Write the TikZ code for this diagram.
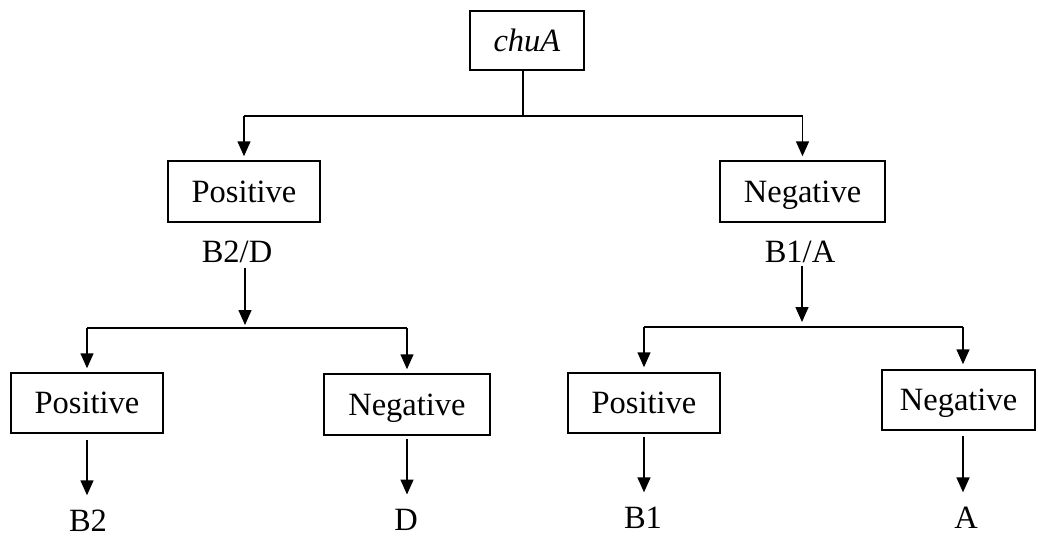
\documentclass[tikz,border=0pt]{standalone}
\usepackage{fontspec}
\setmainfont{Liberation Serif}
\usetikzlibrary{arrows.meta}
\begin{document}
\begin{tikzpicture}[x=1pt,y=-1pt,
  every node/.style={font=\fontsize{32.5}{38}\selectfont},
  box/.style={draw, line width=1.5pt, inner sep=0pt, text height=21.5pt, text depth=0pt},
  lab/.style={anchor=base, inner sep=0pt},
  conn/.style={line width=1.5pt},
  arr/.style={line width=1.5pt, -{Triangle[width=13pt,length=15pt]}}]
\useasboundingbox (0,0) rectangle (1038,536);
% boxes
\node[box, minimum width=114pt, minimum height=59pt] (chua) at (527,40.5) {\textit{chuA}};
\node[box, minimum width=152pt, minimum height=61pt] (pos1) at (244,191.5) {Positive};
\node[box, minimum width=165pt, minimum height=61pt] (neg1) at (802.5,191.5) {Negative};
\node[box, minimum width=152pt, minimum height=60pt] (pos2) at (87,403) {Positive};
\node[box, minimum width=166pt, minimum height=61pt] (neg2) at (407,404.5) {Negative};
\node[box, minimum width=152pt, minimum height=60pt] (pos3) at (644,403) {Positive};
\node[box, minimum width=153pt, minimum height=60pt] (neg3) at (958.5,400) {Negative};
% labels
\node[lab] (bd) at (237,262) {B2/D};
\node[lab] (ba) at (800,262) {B1/A};
\node[lab] (b2) at (88,531) {B2};
\node[lab] (d) at (406,530) {D};
\node[lab] (b1) at (643,528) {B1};
\node[lab] (a) at (966,528) {A};
% junctions
\coordinate (j0) at (523,116);
\coordinate (j1) at (245,328);
\coordinate (j2) at (802,327);
\coordinate (r3) at (963,327);
% top level
\draw[conn] (chua.south -| j0) -- (j0);
\draw[conn] (pos1 |- j0) -- (neg1 |- j0);
\draw[arr, shorten >=4pt] (pos1 |- j0) -- (pos1.north);
\draw[arr, shorten >=4pt] (neg1 |- j0) -- (neg1.north);
% left branch
\draw[arr, shorten <=5pt, shorten >=3pt] (bd.south -| j1) -- (j1);
\draw[conn] (pos2 |- j1) -- (neg2 |- j1);
\draw[arr, shorten >=4pt] (pos2 |- j1) -- (pos2.north);
\draw[arr, shorten >=4pt] (neg2 |- j1) -- (neg2.north);
% right branch
\draw[arr, shorten <=3pt, shorten >=5pt] (ba.south -| j2) -- (j2);
\draw[conn] (pos3 |- j2) -- (r3);
\draw[arr, shorten >=5pt] (pos3 |- j2) -- (pos3.north);
\draw[arr, shorten >=5pt] (r3) -- (r3 |- neg3.north);
% leaves
\draw[arr, shorten <=6pt, shorten >=14pt] (pos2.south) -- (pos2.south |- b2.north);
\draw[arr, shorten <=3pt, shorten >=14pt] (neg2.south) -- (neg2.south |- d.north);
\draw[arr, shorten <=3pt, shorten >=14pt] (pos3.south) -- (pos3.south |- b1.north);
\draw[arr, shorten <=5pt, shorten >=14pt] (neg3.south -| r3) -- (r3 |- a.north);
\end{tikzpicture}
\end{document}
